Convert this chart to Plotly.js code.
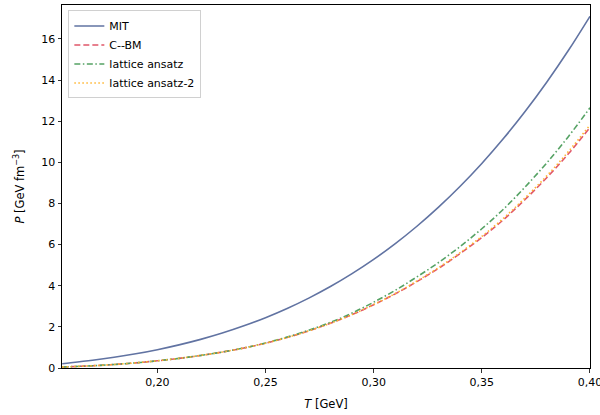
<!DOCTYPE html>
<html>
<head>
<meta charset="utf-8">
<script src="https://cdn.plot.ly/plotly-3.0.1.min.js"></script>
<style>html,body{margin:0;padding:0;background:#fff;}#chart{width:600px;height:415px;}</style>
</head>
<body>
<div id="chart"></div>
<script>
var T = [0.156, 0.16, 0.17, 0.18, 0.19, 0.20, 0.21, 0.22, 0.23, 0.24, 0.25, 0.26, 0.27, 0.28, 0.29, 0.30, 0.31, 0.32, 0.33, 0.34, 0.35, 0.36, 0.37, 0.38, 0.39, 0.40];
var pMIT = [0.21, 0.253, 0.374, 0.519, 0.690, 0.891, 1.124, 1.392, 1.700, 2.051, 2.448, 2.896, 3.399, 3.961, 4.587, 5.281, 6.047, 6.892, 7.820, 8.836, 9.945, 11.154, 12.468, 13.893, 15.435, 17.100];
var pCBM = [0.050, 0.064, 0.109, 0.171, 0.251, 0.350, 0.468, 0.610, 0.776, 0.971, 1.205, 1.486, 1.805, 2.175, 2.595, 3.077, 3.605, 4.202, 4.845, 5.564, 6.345, 7.211, 8.193, 9.251, 10.414, 11.691];
var pLat = [0.050, 0.064, 0.109, 0.171, 0.251, 0.350, 0.468, 0.610, 0.776, 0.975, 1.215, 1.505, 1.835, 2.22, 2.67, 3.20, 3.78, 4.43, 5.13, 5.91, 6.77, 7.72, 8.80, 9.97, 11.25, 12.65];
var pLat2 = [0.050, 0.064, 0.109, 0.171, 0.251, 0.350, 0.468, 0.610, 0.776, 0.971, 1.205, 1.486, 1.805, 2.175, 2.595, 3.09, 3.62, 4.23, 4.88, 5.61, 6.40, 7.28, 8.27, 9.34, 10.52, 11.81];
var names = ["MIT", "C--BM", "lattice ansatz", "lattice ansatz-2"];
var xTicks = [0.20, 0.25, 0.30, 0.35, 0.40];
var yTicks = [0, 2, 4, 6, 8, 10, 12, 14, 16];

var traces = [
  {x: T, y: pMIT, name: names[0], mode: "lines", line: {color: "#6173a2", width: 1.6, shape: "spline"}},
  {x: T, y: pCBM, name: names[1], mode: "lines", line: {color: "#e0576a", width: 1.6, dash: "6px,3px", shape: "spline"}},
  {x: T, y: pLat, name: names[2], mode: "lines", line: {color: "#55a264", width: 1.6, dash: "6px,2.5px,1.5px,2.5px", shape: "spline"}},
  {x: T, y: pLat2, name: names[3], mode: "lines", line: {color: "#ffb52e", width: 1.6, dash: "1.5px,2.5px", shape: "spline"}}
];

var layout = {
  width: 600, height: 415,
  margin: {l: 62, r: 10, t: 5, b: 47},
  paper_bgcolor: "#fff", plot_bgcolor: "#fff",
  separators: ",.",
  font: {family: "DejaVu Sans", size: 11, color: "#000"},
  showlegend: true,
  legend: {x: 0.012, y: 0.985, xanchor: "left", yanchor: "top", bgcolor: "rgba(255,255,255,0.8)", bordercolor: "#d0d0d0", borderwidth: 1, font: {family: "DejaVu Sans", size: 11}, tracegroupgap: 0},
  xaxis: {
    range: [0.1559, 0.40002], tickvals: xTicks, tickformat: ".2f",
    automargin: false, ticklabeloverflow: "allow",
    showgrid: false, zeroline: false, showline: true, mirror: true, linecolor: "#000", linewidth: 1,
    ticks: "outside", ticklen: 3.5, tickwidth: 0.8, tickcolor: "#000",
    tickfont: {family: "DejaVu Sans", size: 11},
    title: {text: "<i>T</i> [GeV]", font: {family: "DejaVu Sans", size: 11.5}, standoff: 12}
  },
  yaxis: {
    range: [0, 17.65], tickvals: yTicks,
    showgrid: false, zeroline: false, showline: true, mirror: true, linecolor: "#000", linewidth: 1,
    ticks: "outside", ticklen: 3.5, tickwidth: 0.8, tickcolor: "#000",
    tickfont: {family: "DejaVu Sans", size: 11},
    title: {text: "<i>P</i> [GeV fm<sup>−3</sup>]", font: {family: "DejaVu Sans", size: 11.5}, standoff: 14}
  }
};
Plotly.newPlot("chart", traces, layout, {displayModeBar: false, staticPlot: true});
</script>
</body>
</html>
